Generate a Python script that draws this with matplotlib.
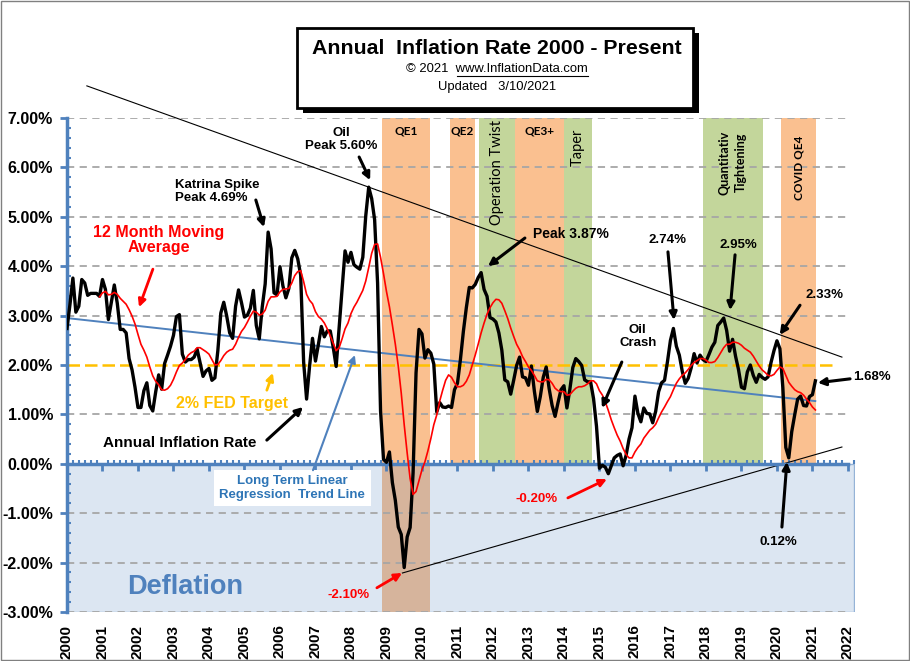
import matplotlib
matplotlib.use("Agg")
import matplotlib.pyplot as plt
from matplotlib.patches import Rectangle
from matplotlib.lines import Line2D
from matplotlib.ticker import MultipleLocator, FuncFormatter

# annual CPI-U inflation, monthly, Jan 2000 .. Feb 2021 (%)
inflation = [
    2.74, 3.22, 3.76, 3.07, 3.19, 3.73, 3.66, 3.41, 3.45, 3.45, 3.45, 3.39,
    3.73, 3.53, 2.92, 3.27, 3.62, 3.25, 2.72, 2.72, 2.65, 2.13, 1.90, 1.55,
    1.14, 1.14, 1.48, 1.64, 1.18, 1.07, 1.46, 1.80, 1.51, 2.03, 2.20, 2.38,
    2.60, 2.98, 3.02, 2.22, 2.06, 2.11, 2.11, 2.16, 2.32, 2.04, 1.77, 1.88,
    1.93, 1.69, 1.74, 2.29, 3.05, 3.27, 2.99, 2.65, 2.54, 3.19, 3.52, 3.26,
    2.97, 3.01, 3.15, 3.51, 2.80, 2.53, 3.17, 3.64, 4.69, 4.35, 3.46, 3.42,
    3.99, 3.60, 3.36, 3.55, 4.17, 4.32, 4.15, 3.82, 2.06, 1.31, 1.97, 2.54,
    2.08, 2.42, 2.78, 2.57, 2.69, 2.69, 2.36, 1.97, 2.76, 3.54, 4.31, 4.08,
    4.28, 4.03, 3.98, 3.94, 4.18, 5.02, 5.60, 5.37, 4.94, 3.66, 1.07, 0.09,
    0.03, 0.24, -0.38, -0.74, -1.28, -1.43, -2.10, -1.48, -1.29, -0.18, 1.84, 2.72,
    2.63, 2.14, 2.31, 2.24, 2.02, 1.05, 1.24, 1.15, 1.14, 1.17, 1.14, 1.50,
    1.63, 2.11, 2.68, 3.16, 3.57, 3.56, 3.63, 3.77, 3.87, 3.53, 3.39, 2.96,
    2.93, 2.87, 2.65, 2.30, 1.70, 1.66, 1.41, 1.69, 1.99, 2.16, 1.76, 1.74,
    1.59, 1.98, 1.47, 1.06, 1.36, 1.75, 1.96, 1.52, 1.18, 0.96, 1.24, 1.50,
    1.58, 1.13, 1.51, 1.95, 2.13, 2.07, 1.99, 1.70, 1.66, 1.66, 1.32, 0.76,
    -0.09, -0.03, -0.07, -0.20, -0.04, 0.12, 0.17, 0.20, -0.04, 0.17, 0.50, 0.73,
    1.37, 1.02, 0.85, 1.13, 1.02, 1.01, 0.83, 1.06, 1.46, 1.64, 1.69, 2.07,
    2.50, 2.74, 2.38, 2.20, 1.87, 1.63, 1.73, 1.94, 2.23, 2.04, 2.20, 2.11,
    2.07, 2.21, 2.36, 2.46, 2.80, 2.87, 2.95, 2.70, 2.28, 2.52, 2.18, 1.91,
    1.55, 1.52, 1.86, 2.00, 1.79, 1.65, 1.81, 1.75, 1.71, 1.76, 2.05, 2.29,
    2.49, 2.33, 1.54, 0.33, 0.12, 0.65, 0.99, 1.31, 1.37, 1.18, 1.17, 1.36,
    1.40, 1.68,
]

# 12 month moving average, Dec 2000 .. Feb 2021 (%)
moving_avg = [
    3.38,
    3.46, 3.49, 3.42, 3.43, 3.47, 3.43, 3.35, 3.29, 3.23, 3.12, 2.99, 2.83,
    2.62, 2.42, 2.30, 2.16, 1.96, 1.78, 1.67, 1.60, 1.50, 1.49, 1.52, 1.59,
    1.71, 1.86, 1.99, 2.04, 2.11, 2.20, 2.25, 2.28, 2.35, 2.35, 2.31, 2.27,
    2.22, 2.11, 2.00, 2.01, 2.09, 2.19, 2.26, 2.30, 2.32, 2.42, 2.56, 2.68,
    2.76, 2.87, 2.99, 3.09, 3.07, 3.01, 3.03, 3.11, 3.29, 3.38, 3.38, 3.39,
    3.48, 3.53, 3.54, 3.55, 3.66, 3.81, 3.89, 3.91, 3.69, 3.43, 3.31, 3.24,
    3.08, 2.98, 2.93, 2.85, 2.73, 2.59, 2.44, 2.29, 2.35, 2.53, 2.73, 2.85,
    3.04, 3.17, 3.27, 3.39, 3.51, 3.70, 3.97, 4.26, 4.44, 4.45, 4.18, 3.85,
    3.49, 3.18, 2.81, 2.42, 1.97, 1.43, 0.79, 0.22, -0.30, -0.62, -0.56, -0.34,
    -0.12, 0.04, 0.26, 0.51, 0.79, 0.99, 1.27, 1.49, 1.69, 1.80, 1.75, 1.64,
    1.56, 1.56, 1.59, 1.67, 1.80, 2.00, 2.20, 2.42, 2.65, 2.85, 3.03, 3.16,
    3.26, 3.33, 3.32, 3.25, 3.10, 2.94, 2.75, 2.58, 2.42, 2.31, 2.17, 2.07,
    1.96, 1.89, 1.79, 1.68, 1.66, 1.66, 1.71, 1.70, 1.63, 1.53, 1.48, 1.46,
    1.46, 1.39, 1.40, 1.47, 1.53, 1.56, 1.56, 1.58, 1.62, 1.68, 1.68, 1.62,
    1.48, 1.39, 1.25, 1.08, 0.89, 0.73, 0.58, 0.46, 0.31, 0.19, 0.12, 0.12,
    0.24, 0.33, 0.40, 0.52, 0.60, 0.68, 0.73, 0.80, 0.93, 1.05, 1.15, 1.26,
    1.36, 1.50, 1.63, 1.72, 1.79, 1.84, 1.91, 1.99, 2.05, 2.09, 2.13, 2.13,
    2.10, 2.05, 2.05, 2.07, 2.15, 2.25, 2.35, 2.42, 2.42, 2.46, 2.46, 2.44,
    2.40, 2.34, 2.30, 2.26, 2.18, 2.08, 1.98, 1.90, 1.85, 1.79, 1.78, 1.81,
    1.89, 1.96, 1.93, 1.79, 1.65, 1.57, 1.50, 1.46, 1.44, 1.39, 1.31, 1.24,
    1.15, 1.09,
]

years = list(range(2000, 2023))

# Fed policy periods (start, end, label)
band_names = ["QE1", "QE2", "Operation Twist", "QE3+", "Taper",
              "Quantitativ\nTightening", "COVID QE4"]
band_start = [2008.87, 2010.78, 2011.62, 2012.62, 2014.0, 2017.92, 2020.12]
band_end = [2010.22, 2011.5, 2012.62, 2014.0, 2014.8, 2019.6, 2021.1]
band_kind = ["qe", "qe", "twist", "qe", "twist", "twist", "qe"]

# trend lines, end points
resist_x, resist_y = [2000.56, 2021.83], [7.65, 2.16]
support_x, support_y = [2009.45, 2021.83], [-2.21, 0.34]
trend_x, trend_y = [2000.0, 2021.08], [2.95, 1.27]
fed_target = 2.0

plt.rcParams['font.family'] = ['Liberation Sans', 'DejaVu Sans']

ORANGE = '#fac090'
GREEN = '#c3d69b'
AXBLUE = '#4f81bd'

fig = plt.figure(figsize=(9.1, 6.61), dpi=100)
ax = fig.add_axes([0.0736, 0.0741, 0.8660, 0.7474])
ax.set_xlim(2000, 2022.2)
ax.set_ylim(-3, 7)

x_data = [2000 + i / 12 for i in range(len(inflation))]
x_ma = [2000 + (i + 11) / 12 for i in range(len(moving_avg))]

# shaded periods
for nm, s, e, k in zip(band_names, band_start, band_end, band_kind):
    col = ORANGE if k == "qe" else GREEN
    ax.add_patch(Rectangle((s, 0), e - s, 7, facecolor=col, edgecolor='none', zorder=0.5))

# deflation box
ax.add_patch(Rectangle((2000, -3), 22.17, 3, facecolor='#dce6f2',
                       edgecolor='#95b3d7', lw=1, zorder=0.6))
ax.add_patch(Rectangle((band_start[0], -3), band_end[0] - band_start[0], 3,
                       facecolor='#d6b49c', edgecolor='none', zorder=0.7))

# grid
for g in [-3, -2, -1, 1, 3, 4, 5, 6, 7]:
    ax.plot([2000, 2022], [g, g], color='#a6a6a6', lw=1.3, dashes=(4, 3), zorder=0.8)

# band labels
for nm, s, e in zip(band_names, band_start, band_end):
    xc = (s + e) / 2
    if nm in ("QE1", "QE2", "QE3+"):
        ax.text(xc, 6.73, nm, ha='center', va='center', fontsize=8.5, fontweight='bold',
                family='Lato', zorder=3)
    elif nm == "Operation Twist":
        ax.text(xc, 5.9, nm, ha='center', va='center', rotation=90, fontsize=10.5,
                family='Lato', zorder=3)
    elif nm == "Taper":
        ax.text(xc, 6.4, nm, ha='center', va='center', rotation=90, fontsize=10.5,
                family='Lato', zorder=3)
    elif nm == "COVID QE4":
        ax.text(xc, 6.0, nm, ha='center', va='center', rotation=90, fontsize=8.5,
                fontweight='bold', family='Lato', zorder=3)
    else:
        ax.text(xc, 6.1, nm, ha='center', va='center', rotation=90, fontsize=9,
                fontweight='bold', family='Lato', linespacing=1.45, zorder=3)

# lines
ax.plot([2000, 2021.7], [fed_target, fed_target], color='#ffc000', lw=1.8,
        dashes=(5, 2), zorder=2)
ax.plot(trend_x, trend_y, color=AXBLUE, lw=1.4, zorder=2.2)
ax.plot(resist_x, resist_y, color='black', lw=0.8, zorder=2.2, clip_on=False)
ax.plot(support_x, support_y, color='black', lw=0.8, zorder=2.2)
ax.plot(x_data, inflation, color='black', lw=2.4, zorder=4, solid_joinstyle='round')
ax.plot(x_ma, moving_avg, color='#ff0000', lw=1.2, zorder=4.5)

# axes styling
for sp in ['top', 'right']:
    ax.spines[sp].set_visible(False)
ax.spines['left'].set_color(AXBLUE)
ax.spines['left'].set_linewidth(2.5)
ax.spines['bottom'].set_position(('data', 0))
ax.spines['bottom'].set_color(AXBLUE)
ax.spines['bottom'].set_linewidth(2.5)
ax.spines['bottom'].set_bounds(2000, 2022)
ax.spines['bottom'].set_zorder(3)

ax.yaxis.set_major_locator(MultipleLocator(1))
ax.yaxis.set_minor_locator(MultipleLocator(0.2))
ax.yaxis.set_major_formatter(FuncFormatter(lambda v, p: f"{v:.2f}%"))
ax.tick_params(axis='y', which='major', direction='out', length=5, width=2,
               color=AXBLUE, labelsize=11.5, pad=5)
ax.tick_params(axis='y', which='minor', direction='in', length=3, width=1.5, color=AXBLUE)
for lb in ax.get_yticklabels():
    lb.set_fontweight('bold')

ax.set_xticks(years)
ax.xaxis.set_minor_locator(MultipleLocator(1 / 6))
ax.tick_params(axis='x', which='major', direction='out', length=5, width=2,
               color=AXBLUE, labelbottom=False)
ax.tick_params(axis='x', which='minor', direction='in', length=3, width=1.5, color=AXBLUE)

sec = ax.secondary_xaxis('bottom')
sec.set_xticks(years)
sec.set_xticklabels([str(y) for y in years], rotation=90, fontweight='bold', fontsize=11)
sec.tick_params(length=0, pad=9)
sec.spines['bottom'].set_visible(False)

# annotations
def arrow(tip, start, col='black', lw=2.2):
    ax.annotate('', xy=tip, xytext=start, zorder=6, annotation_clip=False,
                arrowprops=dict(arrowstyle='-|>', color=col, lw=lw, mutation_scale=11,
                                shrinkA=0, shrinkB=0))

ax.text(2007.72, 6.57, "Oil\nPeak 5.60%", ha='center', va='center', fontsize=9.5,
        fontweight='bold', linespacing=1.1, zorder=6)
arrow((2008.54, 5.74), (2008.23, 6.21))
ax.text(2003.04, 5.51, "Katrina Spike\nPeak 4.69%", ha='left', va='center', fontsize=9.5,
        fontweight='bold', linespacing=1.1, zorder=6)
arrow((2005.55, 4.79), (2005.32, 5.34))
ax.text(2002.59, 4.53, "12 Month Moving\nAverage", ha='center', va='center', fontsize=11.5,
        fontweight='bold', color='#ff0000', linespacing=1.05, zorder=6)
arrow((2002.03, 3.17), (2002.42, 3.94), col='#ff0000', lw=2)
ax.text(2004.65, 1.23, "2% FED Target", ha='center', va='center', fontsize=11.5,
        fontweight='bold', color='#ffc000', zorder=6)
arrow((2005.80, 1.84), (2005.63, 1.49), col='#ffc000', lw=2)
ax.text(2003.18, 0.42, "Annual Inflation Rate", ha='center', va='center', fontsize=11,
        fontweight='bold', zorder=6)
arrow((2006.65, 1.15), (2005.63, 0.48))
ax.text(2006.34, -0.49, "Long Term Linear\nRegression  Trend Line", ha='center', va='center',
        fontsize=9.5, fontweight='bold', color='#2e75b6', linespacing=1.15, zorder=6,
        bbox=dict(facecolor='white', edgecolor='none', pad=4))
arrow((2008.11, 2.20), (2006.93, -0.13), col=AXBLUE, lw=1.5)
ax.text(2013.13, 4.65, "Peak 3.87%", ha='left', va='center', fontsize=10,
        fontweight='bold', zorder=6)
arrow((2011.86, 4.00), (2012.90, 4.57))
ax.text(2016.93, 4.53, "2.74%", ha='center', va='center', fontsize=9.5,
        fontweight='bold', zorder=6)
arrow((2017.10, 2.91), (2016.93, 4.29))
ax.text(2018.90, 4.43, "2.95%", ha='center', va='center', fontsize=9.5,
        fontweight='bold', zorder=6)
arrow((2018.68, 3.11), (2018.82, 4.23))
ax.text(2016.08, 2.57, "Oil\nCrash", ha='center', va='center', fontsize=9.5,
        fontweight='bold', linespacing=1.1, zorder=6)
arrow((2015.07, 1.13), (2015.63, 2.06))
ax.text(2021.35, 3.42, "2.33%", ha='center', va='center', fontsize=9.5,
        fontweight='bold', zorder=6)
arrow((2020.08, 2.61), (2020.65, 3.21))
ax.text(2022.14, 1.76, "1.68%", ha='left', va='center', fontsize=9.5,
        fontweight='bold', zorder=6, clip_on=False)
arrow((2021.15, 1.64), (2022.06, 1.72))
ax.text(2020.03, -1.58, "0.12%", ha='center', va='center', fontsize=9.5,
        fontweight='bold', zorder=6)
arrow((2020.28, 0.04), (2020.14, -1.28))
ax.text(2007.92, -2.66, "-2.10%", ha='center', va='center', fontsize=9.5,
        fontweight='bold', color='#ff0000', zorder=6)
arrow((2009.44, -2.21), (2008.73, -2.51), col='#ff0000', lw=2)
ax.text(2013.24, -0.71, "-0.20%", ha='center', va='center', fontsize=9.5,
        fontweight='bold', color='#ff0000', zorder=6)
arrow((2015.21, -0.31), (2014.11, -0.69), col='#ff0000', lw=2)
ax.text(2003.32, -2.49, "Deflation", ha='center', va='center', fontsize=19.5,
        fontweight='bold', color=AXBLUE, zorder=6)

# title box with shadow
fig.add_artist(Rectangle((303 / 910, 1 - 113 / 661), 396 / 910, 80 / 661,
                         transform=fig.transFigure, facecolor='black', edgecolor='none'))
fig.add_artist(Rectangle((297 / 910, 1 - 108 / 661), 396 / 910, 80 / 661,
                         transform=fig.transFigure, facecolor='white', edgecolor='black', lw=2))
fig.text(497 / 910, 1 - 48 / 661, "Annual  Inflation Rate 2000 - Present", ha='center',
         va='center', fontsize=15.3, fontweight='bold')
fig.text(497 / 910, 1 - 69 / 661, "\u00a9 2021  www.InflationData.com", ha='center',
         va='center', fontsize=9.4)
fig.add_artist(Line2D([457 / 910, 588 / 910], [1 - 76 / 661, 1 - 76 / 661],
                      transform=fig.transFigure, color='black', lw=0.8))
fig.text(497 / 910, 1 - 87 / 661, "Updated   3/10/2021", ha='center', va='center',
         fontsize=9.4)

# outer border
fig.add_artist(Rectangle((0.001, 0.0015), 0.998, 0.997, transform=fig.transFigure,
                         fill=False, edgecolor='#808080', lw=1))

fig.savefig("out.png", dpi=100)
